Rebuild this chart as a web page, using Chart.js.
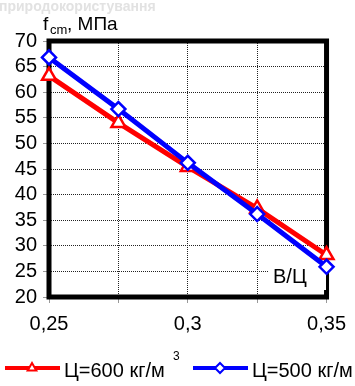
<!DOCTYPE html>
<html>
<head>
<meta charset="utf-8">
<script src="https://cdn.jsdelivr.net/npm/chart.js@4"></script>
<style>
  html, body { margin: 0; padding: 0; background: #fff; }
  #wrap { width: 355px; height: 386px; position: relative; }
</style>
</head>
<body>
<div id="wrap"><canvas id="chart" width="355" height="386"></canvas></div>
<script>
// data
const wc = [0.25, 0.275, 0.3, 0.325, 0.35];
const strength600 = [63.2, 54, 45.4, 37.3, 28.2];
const strength500 = [66.8, 56.7, 46.2, 36.2, 25.9];
const xTickLabels = [0.25, 0.3, 0.35];
const label600 = 'Ц=600 кг/м';
const label500 = 'Ц=500 кг/м';

const FONT = '"Liberation Sans", Arial, sans-serif';

function pts(xs, ys) {
    return xs.map(function (x, i) { return {x: x, y: ys[i]}; });
}

// frame and the В/Ц label go under the lines
const underlay = {
    id: 'underlay',
    beforeDatasetsDraw: function (chart) {
        const ctx = chart.ctx;
        const a = chart.chartArea;
        ctx.save();
        ctx.strokeStyle = '#000';
        ctx.lineWidth = 5;
        ctx.strokeRect(a.left, a.top, a.right - a.left, a.bottom - a.top);

        ctx.fillStyle = '#fff';
        ctx.fillRect(268, 262, 58, 28);
        ctx.fillStyle = '#000';
        ctx.font = '20px ' + FONT;
        ctx.textBaseline = 'alphabetic';
        ctx.fillText('В/Ц', 273, 283);
        ctx.restore();
    }
};

// titles and legend
const overlay = {
    id: 'overlay',
    afterDraw: function (chart) {
        const ctx = chart.ctx;
        ctx.save();
        ctx.textBaseline = 'alphabetic';
        ctx.textAlign = 'left';

        // faded watermark
        ctx.fillStyle = '#e2e2e2';
        ctx.font = 'bold 14px ' + FONT;
        ctx.fillText('природокористування', -1, 11);

        // axis title
        ctx.fillStyle = '#000';
        ctx.font = '19px ' + FONT;
        ctx.fillText('f', 43, 30);
        ctx.font = '13px ' + FONT;
        ctx.fillText('cm', 50, 34);
        ctx.font = '19px ' + FONT;
        ctx.fillText(', МПа', 67, 30);

        // legend
        const items = [
            {x: 5, text: label600, ds: chart.data.datasets[0]},
            {x: 193, text: label500, ds: chart.data.datasets[1]}
        ];
        const ly = 368;
        items.forEach(function (it) {
            ctx.strokeStyle = it.ds.borderColor;
            ctx.lineWidth = 4;
            ctx.beginPath();
            ctx.moveTo(it.x, ly);
            ctx.lineTo(it.x + 55, ly);
            ctx.stroke();
            ctx.fillStyle = '#fff';
            ctx.lineWidth = 2;
            Chart.helpers.drawPoint(ctx, {
                pointStyle: it.ds.pointStyle,
                radius: 5,
                borderWidth: 2
            }, it.x + 27, ly);
            ctx.fillStyle = '#000';
            ctx.font = '20px ' + FONT;
            ctx.fillText(it.text, it.x + 59, 377);
        });
        ctx.font = '12px ' + FONT;
        ctx.fillText('3', 173, 360);
        ctx.restore();
    }
};

new Chart(document.getElementById('chart'), {
    type: 'line',
    data: {
        datasets: [
            {
                label: label600,
                data: pts(wc, strength600),
                borderColor: '#ff0000',
                backgroundColor: '#ffffff',
                borderWidth: 5,
                pointStyle: 'triangle',
                pointRadius: 8,
                pointBorderWidth: 2.5,
                pointBackgroundColor: '#ffffff',
                pointBorderColor: '#ff0000',
                clip: false,
                order: 2
            },
            {
                label: label500,
                data: pts(wc, strength500),
                borderColor: '#0000ff',
                backgroundColor: '#ffffff',
                borderWidth: 5,
                pointStyle: 'rectRot',
                pointRadius: 7,
                pointBorderWidth: 2.5,
                pointBackgroundColor: '#ffffff',
                pointBorderColor: '#0000ff',
                clip: false,
                order: 1
            }
        ]
    },
    options: {
        responsive: false,
        animation: false,
        events: [],
        layout: {padding: {top: 41, right: 23, left: 0, bottom: 0}},
        plugins: {
            legend: {display: false},
            tooltip: {enabled: false}
        },
        scales: {
            x: {
                type: 'linear',
                min: 0.25,
                max: 0.35,
                afterBuildTicks: function (axis) {
                    axis.ticks = wc.map(function (v) { return {value: v}; });
                },
                afterFit: function (axis) { axis.height = 89; },
                ticks: {
                    color: '#000',
                    font: {family: FONT, size: 20},
                    padding: 9,
                    maxRotation: 0,
                    autoSkip: false,
                    callback: function (v) {
                        const hit = xTickLabels.find(function (t) { return Math.abs(t - v) < 1e-6; });
                        return hit === undefined ? '' : String(hit).replace('.', ',');
                    }
                },
                grid: {
                    color: '#222',
                    lineWidth: 1,
                    tickLength: 6,
                    tickColor: '#999'
                },
                border: {display: false, dash: [1, 1]}
            },
            y: {
                min: 20,
                max: 70,
                afterFit: function (axis) { axis.width = 49; },
                ticks: {
                    stepSize: 5,
                    autoSkip: false,
                    color: '#000',
                    font: {family: FONT, size: 20},
                    padding: 6
                },
                grid: {
                    color: '#222',
                    lineWidth: 1,
                    tickLength: 6,
                    tickColor: '#999'
                },
                border: {display: false, dash: [1, 1]}
            }
        }
    },
    plugins: [underlay, overlay]
});
</script>
</body>
</html>
